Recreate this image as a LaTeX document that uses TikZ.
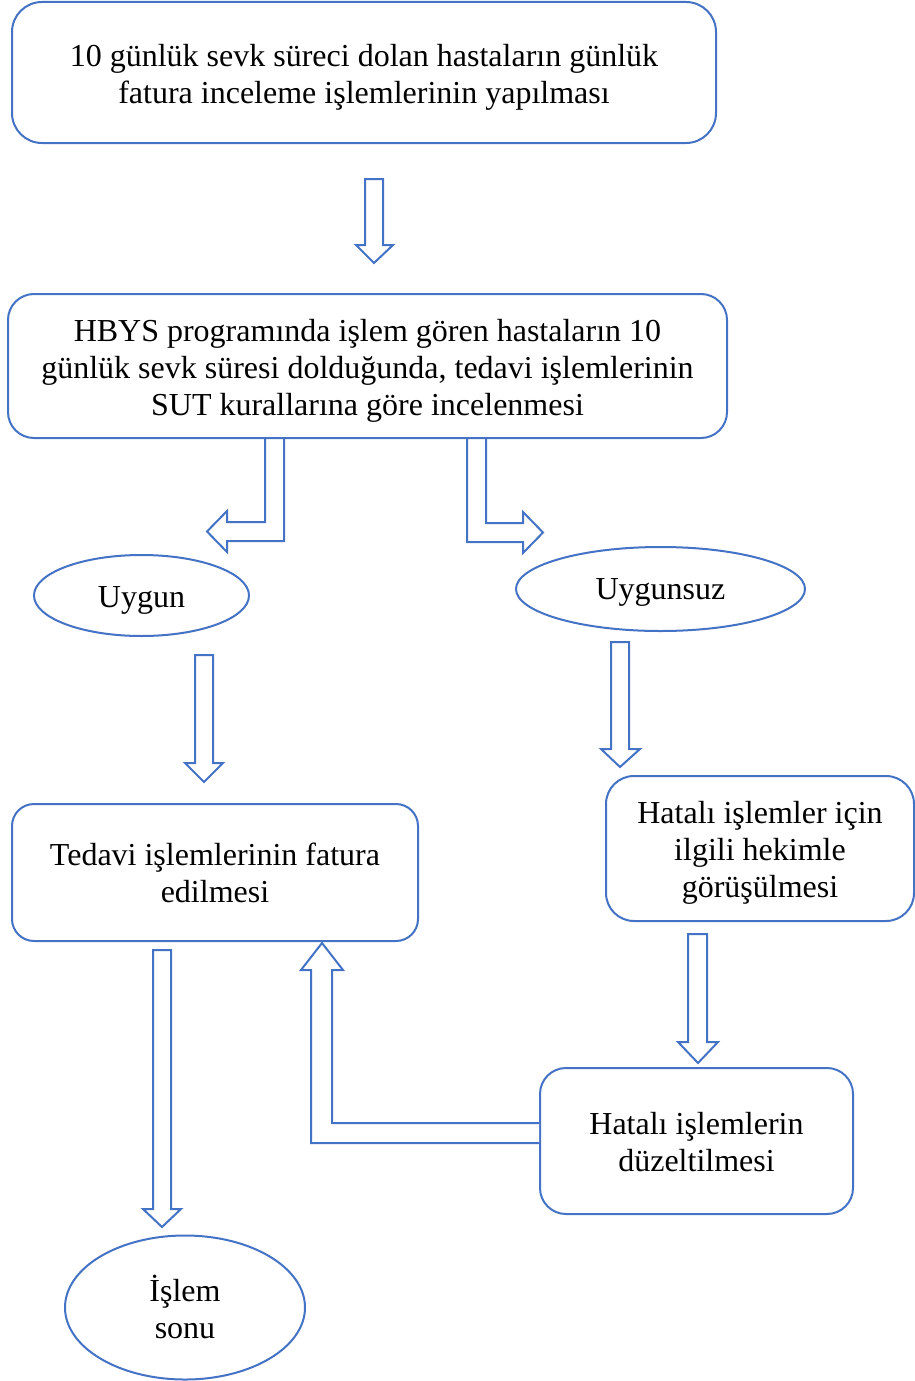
\documentclass[tikz,border=0pt]{standalone}
\usepackage{fontspec}
\setmainfont{Liberation Serif}
\usetikzlibrary{shapes.geometric}
\definecolor{bl}{HTML}{4472C4}
\tikzset{
  box/.style={draw=bl, line width=2pt, inner sep=0pt},
  oval/.style={ellipse, draw=bl, line width=2pt, inner sep=0pt},
  txt/.style={inner sep=0pt, align=center, font=\fontsize{32}{37}\selectfont},
  barrow/.style={draw=bl, line width=2pt, fill=white, line join=miter}
}
\begin{document}
\begin{tikzpicture}[x=1pt,y=-1pt]
\useasboundingbox (0,0) rectangle (915,1381);
% shapes
\node[box, rounded corners=30pt, minimum width=704pt, minimum height=141pt] (b1) at (364,72.5) {};
\node[box, rounded corners=26pt, minimum width=719pt, minimum height=144pt] (b2) at (367.5,366) {};
\node[oval, minimum width=215pt, minimum height=81pt] (uy) at (141.5,595.5) {};
\node[oval, minimum width=289pt, minimum height=84pt] (uz) at (660.5,589) {};
\node[box, rounded corners=22pt, minimum width=406pt, minimum height=137pt] (td) at (215,872.5) {};
\node[box, rounded corners=28pt, minimum width=308pt, minimum height=145pt] (hh) at (760,848.5) {};
\node[box, rounded corners=26pt, minimum width=313pt, minimum height=146pt] (dz) at (696.5,1141) {};
\node[oval, minimum width=240pt, minimum height=144pt] (son) at (185,1307.5) {};
% texts
\node[txt] (t1) at ([yshift=-5pt]b1.center) {10 günlük sevk süreci dolan hastaların günlük\\fatura inceleme işlemlerinin yapılması};
\node[txt] (t2) at ([yshift=-4.5pt]b2.center) {HBYS programında işlem gören hastaların 10\\günlük sevk süresi dolduğunda, tedavi işlemlerinin\\SUT kurallarına göre incelenmesi};
\node[txt] (tuy) at ([yshift=-5pt]uy.center) {Uygun};
\node[txt] (tuz) at ([yshift=-3pt]uz.center) {Uygunsuz};
\node[txt] (ttd) at (td.center) {Tedavi işlemlerinin fatura\\edilmesi};
\node[txt] (thh) at ([yshift=-4.5pt]hh.center) {Hatalı işlemler için\\ilgili hekimle\\görüşülmesi};
\node[txt] (tdz) at ([yshift=-1.5pt]dz.center) {Hatalı işlemlerin\\düzeltilmesi};
\node[txt] (tson) at ([yshift=1pt]son.center) {İşlem\\sonu};
% block arrows
% b1 -> b2
\draw[barrow] (365,179)--(383,179)--(383,245)--(393,245)--(374,263)--(356,245)--(365,245)--cycle;
% b2 -> uy (L)
\draw[barrow] (265,438)--(284,438)--(284,541)--(227,541)--(227,552)--(207,531.5)--(227,511)--(227,522)--(265,522)--cycle;
% b2 -> uz (L)
\draw[barrow] (467,438)--(486,438)--(486,523)--(523,523)--(523,512)--(543,532.5)--(523,553)--(523,542)--(467,542)--cycle;
% uy -> td
\draw[barrow] (195,655)--(213,655)--(213,763)--(223,763)--(204,782)--(185,763)--(195,763)--cycle;
% uz -> hh
\draw[barrow] (611,642)--(629,642)--(629,749)--(640,749)--(620,767)--(601,749)--(611,749)--cycle;
% hh -> dz
\draw[barrow] (688,934)--(707,934)--(707,1042)--(718,1042)--(698,1063)--(678,1042)--(688,1042)--cycle;
% td -> son
\draw[barrow] (153,950)--(171,950)--(171,1209)--(181,1209)--(162,1227)--(143,1209)--(153,1209)--cycle;
% dz -> td (L)
\draw[barrow] (dz.west |- 0,1123)--(332,1123)--(332,970)--(343,970)--(322,943)--(301,970)--(311,970)--(311,1143)--(dz.west |- 0,1143);
\end{tikzpicture}
\end{document}
